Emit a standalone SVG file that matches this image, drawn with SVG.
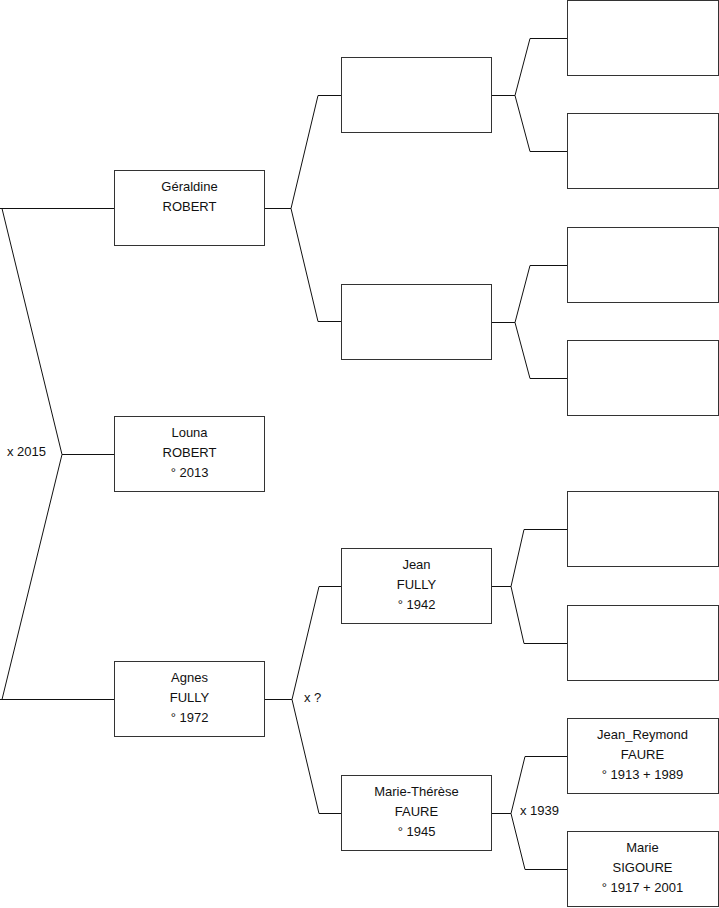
<svg xmlns="http://www.w3.org/2000/svg" width="719" height="908" viewBox="0 0 719 908">
<style>
.box{fill:#fff;stroke:#333;stroke-width:1}
.ln{fill:none;stroke:#111;stroke-width:1}
text{font-family:"Liberation Sans",Arial,sans-serif;font-size:13px;fill:#111}
.c{text-anchor:middle}
</style>
<rect width="719" height="908" fill="#fff"/>
<g id="connectors">
<path class="ln" d="M114 208.5H0M2 208.5L62 454.5L2 699.5M62 454.5H114M0 699.5H114"/>
<path class="ln" d="M265 208.5H291L318 95.5H341M291 208.5L318 321.5H341"/>
<path class="ln" d="M492 95.5H515L530 38.5H567M515 95.5L530 151.5H567"/>
<path class="ln" d="M492 322.5H515L530 265.5H567M515 322.5L530 378.5H567"/>
<path class="ln" d="M265 699.5H292L319 586.5H341M292 699.5L319 813.5H341"/>
<path class="ln" d="M492 586.5H511L524 529.5H567M511 586.5L524 643.5H567"/>
<path class="ln" d="M492 813.5H511L525 756.5H567M511 813.5L525 869.5H567"/>
<text x="7" y="456">x 2015</text>
<text x="304" y="702">x ?</text>
<text x="520" y="815">x 1939</text>
</g>
<g id="geraldine"><rect class="box" x="114.5" y="170.5" width="150" height="75"/><text class="c" x="189.5" y="191">Géraldine</text><text class="c" x="189.5" y="211">ROBERT</text></g>
<g id="louna"><rect class="box" x="114.5" y="416.5" width="150" height="75"/><text class="c" x="189.5" y="437">Louna</text><text class="c" x="189.5" y="457">ROBERT</text><text class="c" x="189.5" y="477">° 2013</text></g>
<g id="agnes"><rect class="box" x="114.5" y="661.5" width="150" height="75"/><text class="c" x="189.5" y="682">Agnes</text><text class="c" x="189.5" y="702">FULLY</text><text class="c" x="189.5" y="722">° 1972</text></g>
<g id="g2a"><rect class="box" x="341.5" y="57.5" width="150" height="75"/></g>
<g id="g2b"><rect class="box" x="341.5" y="284.5" width="150" height="75"/></g>
<g id="jean"><rect class="box" x="341.5" y="548.5" width="150" height="75"/><text class="c" x="416.5" y="569">Jean</text><text class="c" x="416.5" y="589">FULLY</text><text class="c" x="416.5" y="609">° 1942</text></g>
<g id="marie-therese"><rect class="box" x="341.5" y="775.5" width="150" height="75"/><text class="c" x="416.5" y="796">Marie-Thérèse</text><text class="c" x="416.5" y="816">FAURE</text><text class="c" x="416.5" y="836">° 1945</text></g>
<g id="g3a"><rect class="box" x="567.5" y="0.5" width="151" height="75"/></g>
<g id="g3b"><rect class="box" x="567.5" y="113.5" width="151" height="75"/></g>
<g id="g3c"><rect class="box" x="567.5" y="227.5" width="151" height="75"/></g>
<g id="g3d"><rect class="box" x="567.5" y="340.5" width="151" height="75"/></g>
<g id="g3e"><rect class="box" x="567.5" y="491.5" width="151" height="75"/></g>
<g id="g3f"><rect class="box" x="567.5" y="605.5" width="151" height="75"/></g>
<g id="jean-reymond"><rect class="box" x="567.5" y="718.5" width="151" height="75"/><text class="c" x="642.5" y="739">Jean_Reymond</text><text class="c" x="642.5" y="759">FAURE</text><text class="c" x="642.5" y="779">° 1913 + 1989</text></g>
<g id="marie-sigoure"><rect class="box" x="567.5" y="831.5" width="151" height="75"/><text class="c" x="642.5" y="852">Marie</text><text class="c" x="642.5" y="872">SIGOURE</text><text class="c" x="642.5" y="892">° 1917 + 2001</text></g>
</svg>
